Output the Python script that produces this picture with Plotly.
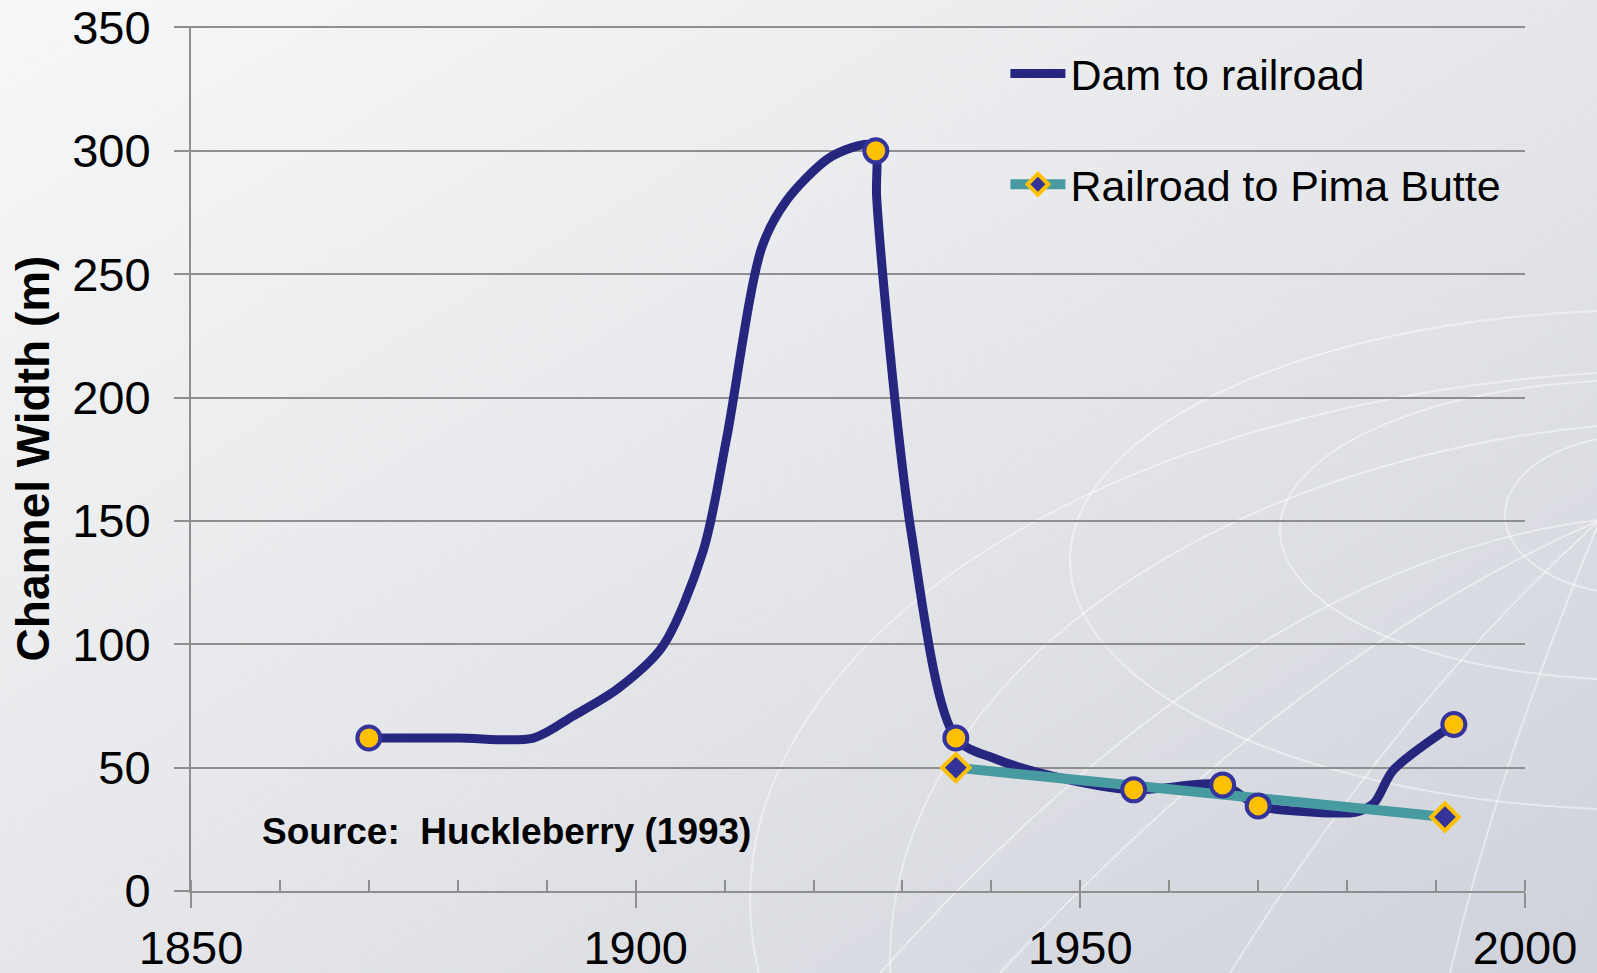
import base64
import plotly.graph_objects as go

# ---------------- data ----------------
# Dam to railroad: smoothed channel-width trace (line only)
dam_years = [1870, 1880, 1888.5, 1893, 1898, 1903, 1907.6, 1910.2, 1914.2, 1917, 1921.5, 1924.3, 1926.2,
             1927, 1927.1, 1931, 1936, 1940.5, 1947, 1956, 1966, 1970, 1976, 1981, 1983, 1985.2, 1992]
dam_width = [62, 62, 62, 71, 82, 99, 138, 183, 261, 280, 296.5, 301.3, 302.6,
             300, 281, 145, 62, 53.5, 46.5, 41, 43, 34.5, 32, 32, 35.5, 49, 67.5]

# Measured points highlighted with markers on the Dam to railroad trace
obs_years = [1870, 1927, 1936, 1956, 1966, 1970, 1992]
obs_width = [62, 300, 62, 41, 43, 34.5, 67.5]

# Railroad to Pima Butte
pima_years = [1936, 1991]
pima_width = [50, 30]

x_ticks = [1850, 1900, 1950, 2000]
y_ticks = [0, 50, 100, 150, 200, 250, 300, 350]

# ---------------- style ----------------
FONT = "Liberation Sans, Arial, sans-serif"
NAVY = "#26267F"
MARK_EDGE = "#34349C"
GOLD = "#FFC000"
TEAL = "#479BA0"
GRID = "#8F8F8F"

W, H = 1597, 973
L, R, T, B = 191, 72, 26, 82
PW, PH = W - L - R, H - T - B

# background: soft grey gradient with faint white globe arcs
svg = f'''<svg xmlns="http://www.w3.org/2000/svg" width="{W}" height="{H}" viewBox="0 0 {W} {H}" preserveAspectRatio="none">
<defs><linearGradient id="g" x1="0" y1="0" x2="1" y2="1">
<stop offset="0" stop-color="#f6f7f8"/><stop offset="0.5" stop-color="#e5e7ea"/><stop offset="1" stop-color="#cfd2db"/>
</linearGradient></defs>
<rect width="{W}" height="{H}" fill="url(#g)"/>
<g fill="none" stroke="#ffffff" stroke-opacity="0.45" stroke-width="2">
<ellipse cx="1640" cy="515" rx="135" ry="80"/>
<ellipse cx="1640" cy="530" rx="360" ry="150"/>
<ellipse cx="1650" cy="560" rx="580" ry="250"/>
<ellipse cx="1700" cy="900" rx="950" ry="530"/>
<ellipse cx="1720" cy="960" rx="830" ry="540"/>
<path d="M1600 520 Q1300 650 1000 973"/>
<path d="M1600 520 Q1400 700 1230 973"/>
<path d="M1600 520 Q1500 760 1450 973"/>
<path d="M1600 520 Q1250 560 880 973"/>
</g></svg>'''
bg_src = "data:image/svg+xml;base64," + base64.b64encode(svg.encode()).decode()

fig = go.Figure()

fig.add_trace(go.Scatter(
    x=dam_years, y=dam_width, mode="lines", name="Dam to railroad",
    line=dict(color=NAVY, width=9, shape="spline", smoothing=0.85),
    legend="legend", hoverinfo="skip"))

fig.add_trace(go.Scatter(
    x=pima_years, y=pima_width, mode="lines+markers", name="Railroad to Pima Butte",
    line=dict(color=TEAL, width=10),
    marker=dict(symbol="diamond", size=21, color="#333399", line=dict(color=GOLD, width=4)),
    legend="legend2"))

fig.add_trace(go.Scatter(
    x=obs_years, y=obs_width, mode="markers", name="Dam to railroad (measured)",
    marker=dict(symbol="circle", size=23, color=GOLD, line=dict(color=MARK_EDGE, width=4)),
    showlegend=False))

# invisible helper trace for the inside part of the major x ticks
fig.add_trace(go.Scatter(x=[1850, 2000], y=[0, 0], xaxis="x2", mode="markers",
                         marker=dict(opacity=0), showlegend=False, hoverinfo="skip"))

axis_font = dict(family=FONT, size=47, color="black")

fig.update_layout(
    width=W, height=H,
    margin=dict(l=L, r=R, t=T, b=B, autoexpand=False),
    paper_bgcolor="#e6e8eb",
    plot_bgcolor="rgba(0,0,0,0)",
    font=dict(family=FONT, color="black"),
    images=[dict(source=bg_src, xref="paper", yref="paper",
                 x=-L / PW, y=1 + T / PH, sizex=W / PW, sizey=H / PH,
                 xanchor="left", yanchor="top", sizing="stretch", layer="below")],
    xaxis=dict(range=[1850, 2000], tickvals=x_ticks, ticktext=[str(v) for v in x_ticks],
               showgrid=False, zeroline=False, showline=True, linecolor=GRID, linewidth=2,
               ticks="outside", ticklen=15, tickwidth=2, tickcolor=GRID,
               minor=dict(dtick=10, ticks="inside", ticklen=11, tickwidth=2, tickcolor=GRID, showgrid=False),
               tickfont=axis_font, ticklabelstandoff=0, ticklabeloverflow="allow",
               fixedrange=True, automargin=False),
    xaxis2=dict(range=[1850, 2000], overlaying="x", anchor="y", side="bottom",
                tickvals=x_ticks, showticklabels=False, ticks="inside", ticklen=11,
                tickwidth=2, tickcolor=GRID, showgrid=False, zeroline=False, showline=False,
                automargin=False),
    yaxis=dict(range=[0, 350.6], tickvals=y_ticks, showgrid=True, gridcolor=GRID, gridwidth=2,
               zeroline=False, showline=True, linecolor=GRID, linewidth=2,
               ticks="outside", ticklen=15, tickwidth=2, tickcolor=GRID,
               tickfont=axis_font, ticklabelstandoff=14, ticklabeloverflow="allow",
               fixedrange=True, automargin=False,
               title=dict(text="Channel Width (m)", standoff=8,
                          font=dict(family=FONT, size=46, color="black", weight="bold"))),
    legend=dict(x=0.6105, y=0.945, xanchor="left", yanchor="middle",
                bgcolor="rgba(0,0,0,0)", borderwidth=0, itemwidth=55,
                font=dict(family=FONT, size=43, color="black")),
    legend2=dict(x=0.6105, y=0.817, xanchor="left", yanchor="middle",
                 bgcolor="rgba(0,0,0,0)", borderwidth=0, itemwidth=55,
                 font=dict(family=FONT, size=43, color="black")),
    annotations=[dict(text="Source:&nbsp;&nbsp;Huckleberry (1993)", xref="paper", yref="paper",
                      x=(506 - L) / PW, y=(891 - 831) / PH, xanchor="center", yanchor="middle",
                      showarrow=False,
                      font=dict(family=FONT, size=37, color="black", weight="bold"))],
    showlegend=True,
)

fig.write_html("out.html", config={"displayModeBar": False},
               post_script="document.body.style.margin='0';document.body.style.overflow='hidden';")
